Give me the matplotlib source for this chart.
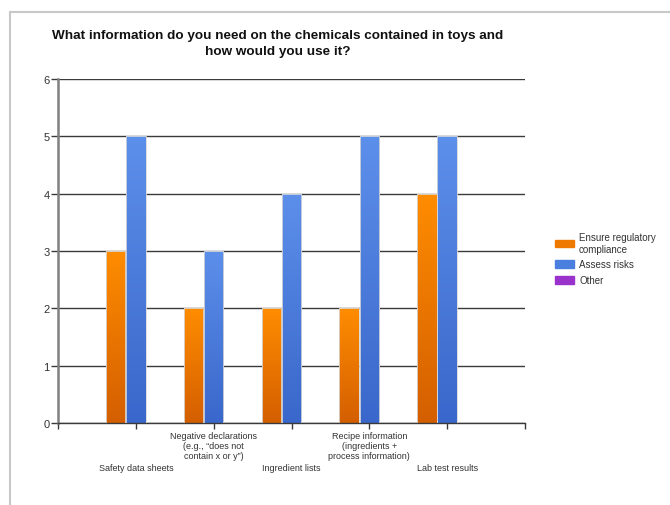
import numpy as np
import matplotlib
matplotlib.use("Agg")
import matplotlib.pyplot as plt
from matplotlib.colors import LinearSegmentedColormap
from matplotlib.patches import Rectangle

plt.rcParams["font.family"] = ["Liberation Sans", "DejaVu Sans"]

title = "What information do you need on the chemicals contained in toys and\nhow would you use it?"
categories = [
    "Safety data sheets",
    "Negative declarations\n(e.g., \u201cdoes not\ncontain x or y\u201d)",
    "Ingredient lists",
    "Recipe information\n(ingredients +\nprocess information)",
    "Lab test results",
]
series_names = ["Ensure regulatory\ncompliance", "Assess risks", "Other"]
ensure = [3, 2, 2, 2, 4]
assess = [5, 3, 4, 5, 5]
other = [0, 0, 0, 0, 0]

# (top, bottom) gradient colours and legend colour per series
grad = [("#ff8c00", "#d45f00"), ("#5c8fea", "#3a67cb"), ("#b050d8", "#8a2ab0")]
legend_colors = ["#ee7800", "#4a7fdf", "#9933cc"]

fig = plt.figure(figsize=(6.7, 5.06), dpi=100)
fig.patches.append(Rectangle((10 / 670, -0.1), 1.2, 1 - 13 / 506 + 0.1,
                             transform=fig.transFigure, fill=False,
                             edgecolor="#c8c8c8", linewidth=1.5))
ax = fig.add_axes([0.0866, 0.162, 0.697, 0.680])

x = np.arange(len(categories))
w = 0.25
values = [ensure, assess, other]
for k, vals in enumerate(values):
    bars = ax.bar(x + (k - 1) * 0.26, vals, width=w, color="none",
                  edgecolor="#d8d8d8", linewidth=0.6, zorder=3)
    cmap = LinearSegmentedColormap.from_list("g%d" % k, [grad[k][1], grad[k][0]])
    for b in bars:
        h = b.get_height()
        if h <= 0:
            continue
        x0 = b.get_x()
        im = ax.imshow(np.linspace(0, 1, 64).reshape(-1, 1), cmap=cmap,
                       extent=[x0, x0 + b.get_width(), 0, h], origin="lower",
                       aspect="auto", zorder=2)
        im.set_clip_path(b)

ax.set_xlim(-1, 5)
ax.set_ylim(0, 6)
ax.set_yticks(range(0, 7))
ax.yaxis.grid(True, color="#3a3a3a", linewidth=1.0)
ax.set_axisbelow(True)
for s in ["top", "right"]:
    ax.spines[s].set_visible(False)
ax.spines["left"].set_color("#808080")
ax.spines["left"].set_linewidth(1.8)
ax.spines["bottom"].set_color("#3a3a3a")
ax.spines["bottom"].set_linewidth(1.0)
ax.tick_params(axis="y", length=5, width=1, color="#3a3a3a", labelsize=8,
               labelcolor="#333333", pad=1)
ax.set_xticks([-1, 0, 1, 2, 3, 4, 5])
ax.set_xticklabels([""] * 7)
ax.tick_params(axis="x", length=4, width=1, color="#3a3a3a", direction="out")

for i, lab in enumerate(categories):
    off = -6 if i % 2 == 1 else -29
    ax.annotate(lab, xy=(x[i], 0), xycoords=("data", "axes fraction"),
                xytext=(0, off), textcoords="offset points", ha="center",
                va="top", fontsize=6.5, color="#333333", linespacing=1.1)

fig.text(0.415, 0.913, title, ha="center", va="center", fontsize=9.7,
         fontweight="bold", color="#111111", linespacing=1.5)

handles = [Rectangle((0, 0), 1, 1, color=c) for c in legend_colors]
fig.legend(handles, series_names, loc="center left",
           bbox_to_anchor=(0.815, 0.487), frameon=False, fontsize=7,
           handlelength=2.0, handleheight=0.8, handletextpad=0.5,
           labelspacing=0.6, labelcolor="#333333")

fig.savefig("out.png", dpi=100)
